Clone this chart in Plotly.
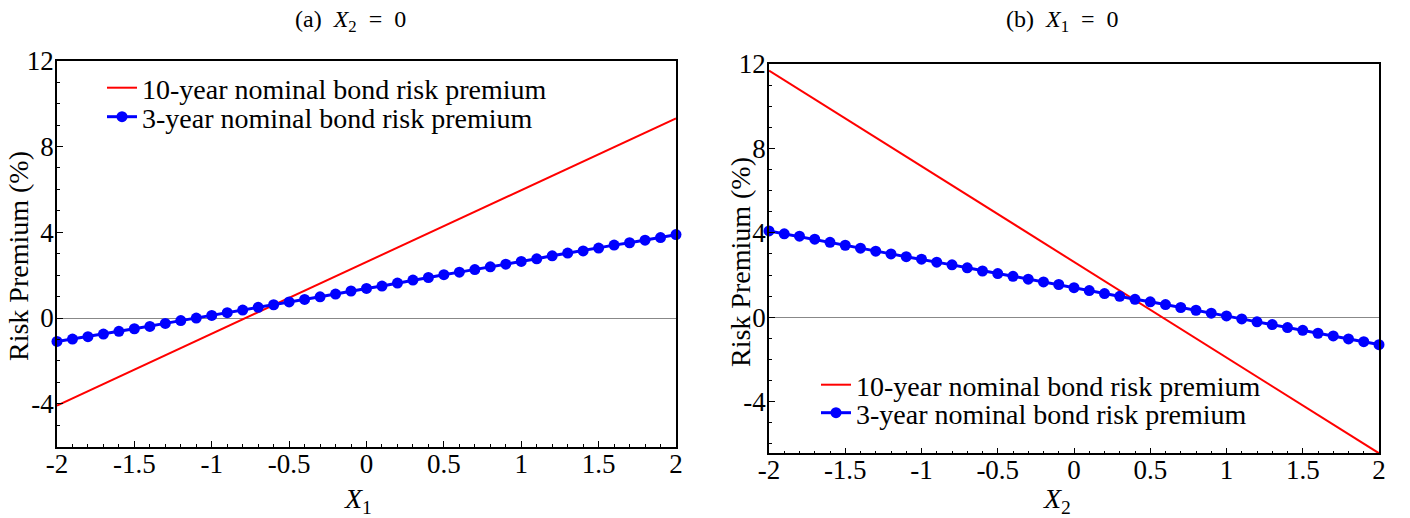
import plotly.graph_objects as go

# x grid of the 3-year series (both panels)
x_grid = [round(-2 + 0.1 * i, 1) for i in range(41)]

# panel (a): X2 = 0, vary X1
a_red_x = [-2, 0, 2]
a_red_y = [-4.08, 2.62, 9.31]
a_blue_y = [-1.09, -0.98, -0.87, -0.75, -0.62, -0.50, -0.39, -0.25, -0.12, 0.00,
            0.12, 0.25, 0.37, 0.50, 0.62, 0.75, 0.87, 0.99, 1.12, 1.26,
            1.38, 1.49, 1.63, 1.77, 1.89, 2.02, 2.14, 2.26, 2.39, 2.51,
            2.64, 2.76, 2.90, 3.03, 3.13, 3.26, 3.40, 3.51, 3.63, 3.75, 3.89]

# panel (b): X1 = 0, vary X2
b_red_x = [-2, 0, 2]
b_red_y = [11.69, 2.62, -6.45]
b_blue_y = [4.09, 3.95, 3.84, 3.70, 3.55, 3.41, 3.27, 3.13, 3.00, 2.87,
            2.75, 2.61, 2.48, 2.34, 2.19, 2.07, 1.94, 1.80, 1.67, 1.55,
            1.40, 1.26, 1.12, 0.99, 0.85, 0.73, 0.60, 0.46, 0.33, 0.19,
            0.06, -0.08, -0.22, -0.35, -0.49, -0.62, -0.76, -0.89, -1.03, -1.16, -1.30]

x_ticks = [-2, -1.5, -1, -0.5, 0, 0.5, 1, 1.5, 2]
x_ticktext = ["-2", "-1.5", "-1", "-0.5", "0", "0.5", "1", "1.5", "2"]
y_ticks = [-4, 0, 4, 8, 12]
y_ticktext = ["-4", "0", "4", "8", "12"]

name10 = "10-year nominal bond risk premium"
name3 = "3-year nominal bond risk premium"
FONT = "Liberation Serif, Times New Roman, serif"
W, H = 1410, 518
OFF = 8  # page body margin


def px(v):
    return (v - OFF) / W


def py(v):
    return 1 - (v - OFF) / H


fig = go.Figure()
fig.add_trace(go.Scatter(x=a_red_x, y=a_red_y, mode="lines", name=name10,
                         line=dict(color="#ff0000", width=2), legend="legend",
                         xaxis="x", yaxis="y"))
fig.add_trace(go.Scatter(x=x_grid, y=a_blue_y, mode="lines+markers", name=name3,
                         line=dict(color="#0000ff", width=3), marker=dict(size=11, color="#0000ff"),
                         cliponaxis=False, legend="legend2", xaxis="x", yaxis="y"))
fig.add_trace(go.Scatter(x=b_red_x, y=b_red_y, mode="lines", name=name10,
                         line=dict(color="#ff0000", width=2), legend="legend3",
                         xaxis="x2", yaxis="y2"))
fig.add_trace(go.Scatter(x=x_grid, y=b_blue_y, mode="lines+markers", name=name3,
                         line=dict(color="#0000ff", width=3), marker=dict(size=11, color="#0000ff"),
                         cliponaxis=False, legend="legend4", xaxis="x2", yaxis="y2"))


def xax(x0, x1, anchor):
    return dict(domain=[px(x0), px(x1)], anchor=anchor, range=[-2, 2],
                tickvals=x_ticks, ticktext=x_ticktext,
                ticks="inside", ticklen=6, tickcolor="black", showline=True, linecolor="black",
                linewidth=1.5, mirror=True, showgrid=False, zeroline=False, automargin=False,
                ticklabelstandoff=-8,
                minor=dict(dtick=0.1, ticks="inside", ticklen=3, tickcolor="black"),
                tickfont=dict(size=27, family=FONT, color="black"))


def yax(y0, y1, anchor, rng):
    return dict(domain=[py(y1), py(y0)], anchor=anchor, range=rng,
                tickvals=y_ticks, ticktext=y_ticktext,
                ticks="inside", ticklen=6, tickcolor="black", showline=True, linecolor="black",
                linewidth=1.5, mirror=True, showgrid=False, automargin=False,
                ticklabelstandoff=-4,
                zeroline=True, zerolinecolor="#888888", zerolinewidth=1,
                minor=dict(dtick=1, ticks="inside", ticklen=3, tickcolor="black"),
                tickfont=dict(size=27, family=FONT, color="black"))


def leg(xpx, ypx):
    return dict(x=px(xpx), y=py(ypx), xanchor="left", yanchor="middle",
                bgcolor="rgba(0,0,0,0)", font=dict(size=28, family=FONT, color="black"),
                tracegroupgap=0)


def note(text, xpx, ypx, size, angle=0, yanchor="middle"):
    return dict(text=text, x=px(xpx), y=py(ypx), xref="paper", yref="paper",
                textangle=angle, showarrow=False, xanchor="center", yanchor=yanchor,
                font=dict(size=size, family=FONT, color="black"))


fig.update_layout(
    template="none",
    width=W, height=H,
    margin=dict(l=0, r=0, t=0, b=0),
    paper_bgcolor="white", plot_bgcolor="white",
    font=dict(family=FONT, color="black"),
    xaxis=xax(57, 676, "y"),
    yaxis=yax(60.7, 446.7, "x", [-6, 12]),
    xaxis2=xax(769, 1379, "y2"),
    yaxis2=yax(64, 453.3, "x2", [-6.45, 12]),
    legend=leg(102, 88),
    legend2=leg(102, 117),
    legend3=leg(816, 385),
    legend4=leg(816, 413),
    showlegend=True,
    annotations=[
        note("(a)\u2002<i>X</i><sub>2</sub>\u2002=\u20020", 350, 21, 24),
        note("(b)\u2002<i>X</i><sub>1</sub>\u2002=\u20020", 1062, 21, 24),
        note("<i>X</i><sub>1</sub>", 358, 481, 28, yanchor="top"),
        note("<i>X</i><sub>2</sub>", 1057, 481, 28, yanchor="top"),
        note("Risk Premium (%)", 19, 256, 28, angle=-90),
        note("Risk Premium (%)", 740, 262, 28, angle=-90),
    ],
)

fig.write_html("out.html")
